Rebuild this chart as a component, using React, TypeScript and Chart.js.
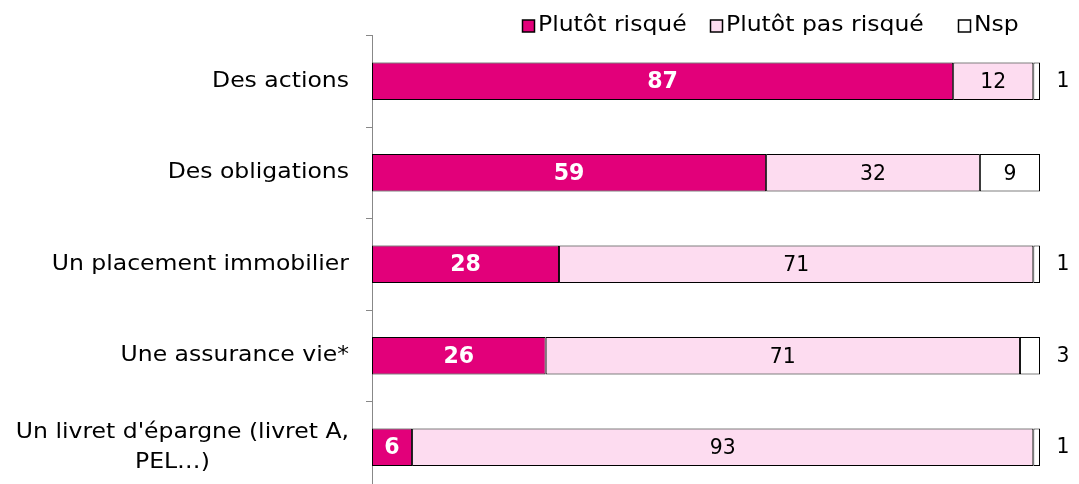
import React, { useEffect, useRef } from "react";
import { Chart, registerables } from "chart.js";

Chart.register(...registerables);

const categories: (string | string[])[] = [
  "Des actions",
  "Des obligations",
  "Un placement immobilier",
  "Une assurance vie*",
  ["Un livret d'épargne (livret A,", "PEL…)"],
];
const seriesNames = ["Plutôt risqué", "Plutôt pas risqué", "Nsp"];
const risque = [87, 59, 28, 26, 6];
const pasRisque = [12, 32, 71, 71, 93];
const nsp = [1, 9, 1, 3, 1];
const seriesColors = ["#E2007A", "#FDDCF0", "#FFFFFF"];

const FONT = '"DejaVu Sans", Verdana, sans-serif';
const STRETCH = 1.12;

function drawText(
  ctx: CanvasRenderingContext2D,
  text: string,
  x: number,
  y: number,
  align: CanvasTextAlign,
  font: string,
  color: string,
  stretch: number = STRETCH
) {
  ctx.save();
  ctx.font = font;
  ctx.fillStyle = color;
  ctx.textAlign = align;
  ctx.textBaseline = "middle";
  ctx.translate(x, y);
  ctx.scale(stretch, 1);
  ctx.fillText(text, 0, 0);
  ctx.restore();
}

function textWidth(ctx: CanvasRenderingContext2D, text: string, font: string) {
  ctx.save();
  ctx.font = font;
  const w = ctx.measureText(text).width * STRETCH;
  ctx.restore();
  return w;
}

const legendSquareX = [522, 710, 958];

const labelsPlugin = {
  id: "customLabels",
  afterDatasetsDraw(chart: any) {
    const ctx: CanvasRenderingContext2D = chart.ctx;
    const area = chart.chartArea;
    chart.data.datasets.forEach((ds: any, i: number) => {
      const meta = chart.getDatasetMeta(i);
      meta.data.forEach((el: any, j: number) => {
        const v = ds.data[j];
        const cx = (el.x + el.base) / 2;
        if (i === 0) {
          drawText(ctx, String(v), cx, el.y + 1, "center", `bold 23px ${FONT}`, "#FFFFFF", 0.96);
        } else if (i === 1) {
          drawText(ctx, String(v), cx, el.y + 1.5, "center", `21px ${FONT}`, "#000000", 0.97);
        } else if (v >= 5) {
          drawText(ctx, String(v), cx, el.y + 1.5, "center", `21px ${FONT}`, "#000000", 0.97);
        } else {
          drawText(ctx, String(v), area.right + 23, el.y + 0.5, "center", `21px ${FONT}`, "#000000", 0.97);
        }
      });
    });
  },
  afterDraw(chart: any) {
    const ctx: CanvasRenderingContext2D = chart.ctx;
    const yScale = chart.scales.y;
    const font = `21px ${FONT}`;
    const rightX = 349;
    categories.forEach((cat, i) => {
      const y = yScale.getPixelForValue(i);
      if (Array.isArray(cat)) {
        const lh = 30;
        const w0 = textWidth(ctx, cat[0], font);
        const center = rightX - w0 / 2 - 10;
        const top = y - ((cat.length - 1) * lh) / 2;
        cat.forEach((line, k) => {
          if (k === 0) drawText(ctx, line, rightX, top + k * lh, "right", font, "#000");
          else drawText(ctx, line, center, top + k * lh, "center", font, "#000");
        });
      } else {
        drawText(ctx, cat, rightX, y, "right", font, "#000");
      }
    });
    // legend
    const ly = 26;
    seriesNames.forEach((name, i) => {
      const x = legendSquareX[i];
      ctx.save();
      ctx.fillStyle = seriesColors[i];
      ctx.fillRect(x + 0.5, ly - 6, 12, 12);
      ctx.strokeStyle = "#000";
      ctx.lineWidth = 1.5;
      ctx.strokeRect(x + 0.5, ly - 6, 12, 12);
      ctx.restore();
      drawText(ctx, name, x + 16, ly, "left", font, "#000");
    });
  },
};

export default function App() {
  const ref = useRef<HTMLCanvasElement | null>(null);
  useEffect(() => {
    if (!ref.current) return;
    const data = [risque, pasRisque, nsp];
    const chart = new Chart(ref.current, {
      type: "bar",
      data: {
        labels: categories as any,
        datasets: seriesNames.map((name, i) => ({
          label: name,
          data: data[i],
          backgroundColor: seriesColors[i],
          borderColor: "#000000",
          borderWidth: 1,
          borderSkipped: false,
          categoryPercentage: 0.82,
          barPercentage: 0.5,
        })),
      },
      options: {
        indexAxis: "y",
        responsive: false,
        animation: false,
        devicePixelRatio: 1,
        layout: { padding: { left: 366, right: 39, top: 35.5, bottom: 1 } },
        plugins: {
          legend: { display: false },
          tooltip: { enabled: false },
        },
        scales: {
          x: { display: false, stacked: true, min: 0, max: 100 },
          y: {
            stacked: true,
            offset: true,
            ticks: { display: false },
            grid: {
              display: true,
              offset: true,
              drawOnChartArea: false,
              drawTicks: true,
              tickLength: 6,
              color: "#888888",
              lineWidth: 1,
            },
            border: { display: true, color: "#888888", width: 1 },
          },
        },
      },
      plugins: [labelsPlugin],
    });
    return () => chart.destroy();
  }, []);
  return (
    <div
      style={{
        position: "fixed",
        left: 0,
        top: 0,
        width: 1079,
        height: 484,
        overflow: "hidden",
        background: "#fff",
      }}
    >
      <canvas ref={ref} width={1079} height={494} style={{ display: "block", width: 1079, height: 494 }} />
    </div>
  );
}
